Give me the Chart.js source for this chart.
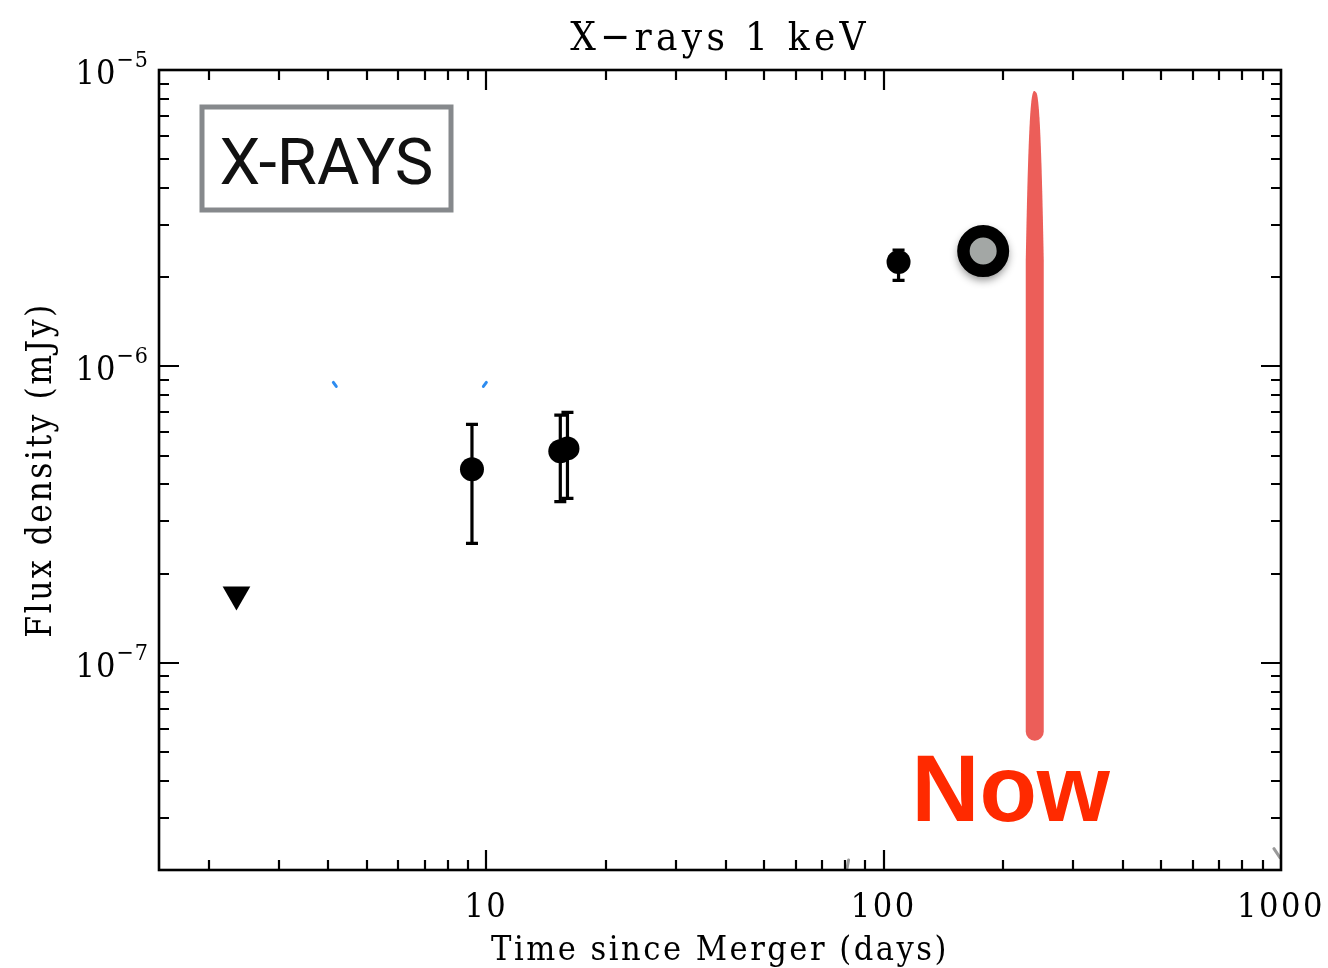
<!DOCTYPE html>
<html>
<head>
<meta charset="utf-8">
<title>X-rays 1 keV light curve</title>
<script src="https://cdn.jsdelivr.net/npm/chart.js@4/dist/chart.umd.min.js"></script>
<style>
  html, body { margin: 0; padding: 0; background: #ffffff; }
  #wrap { width: 1328px; height: 968px; position: relative; }
</style>
</head>
<body>
<div id="wrap"><canvas id="c" width="1328" height="968"></canvas></div>
<script>
// ---- data ----
// upper limit (days since merger, flux density in mJy)
const limitDays = [2.35];
const limitFlux = [1.7e-7];

// detections with their 1-sigma ranges
const detDays = [9.2, 15.35, 16.0, 109];
const detFlux = [4.5e-7, 5.17e-7, 5.29e-7, 2.25e-6];
const detLow  = [2.53e-7, 3.5e-7, 3.59e-7, 1.95e-6];
const detHigh = [6.37e-7, 6.85e-7, 7.0e-7, 2.47e-6];

// most recent epoch
const latestDays = [178];
const latestFlux = [2.45e-6];

// present-day band (day, low/high flux)
const nowDays = [240, 240];
const nowFlux = [5.46e-8, 8.5e-6];

// stray curve pieces
const blueLeftDays  = [4.12, 4.19];
const blueLeftFlux  = [8.83e-7, 8.56e-7];
const blueRightDays = [9.83, 10.0];
const blueRightFlux = [8.56e-7, 8.83e-7];
const greyLeftDays  = [80.9, 81.6];
const greyLeftFlux  = [2.03e-8, 2.16e-8];
const greyRightDays = [960, 994];
const greyRightFlux = [2.36e-8, 2.2e-8];

// axes
const xTicks = [10, 100, 1000];
const yTicks = [1e-7, 1e-6, 1e-5];
const xRange = [1.5, 1000];
const yRange = [2e-8, 1e-5];

const SERIF = '"DejaVu Serif Condensed", "Liberation Serif", serif';
const zip = (xs, ys) => xs.map((v, i) => ({ x: v, y: ys[i] }));

// ---- drawing helpers ----
function drawNowBand(chart) {
  const { ctx, scales: { x, y } } = chart;
  const cx = x.getPixelForValue(nowDays[0]);
  const yTop = y.getPixelForValue(nowFlux[1]);
  const yBot = y.getPixelForValue(nowFlux[0]);
  const half = 9;
  const taper = 170;
  const hw = (py) => half * Math.pow(Math.min(1, Math.max(0, (py - yTop) / taper)), 0.35);
  ctx.save();
  ctx.fillStyle = '#ec5e59';
  ctx.beginPath();
  ctx.moveTo(cx - 1, yTop);
  for (let py = yTop; py <= yBot - half; py += 2) ctx.lineTo(cx + hw(py), py);
  ctx.arc(cx, yBot - half, half, 0, Math.PI);
  for (let py = yBot - half; py >= yTop; py -= 2) ctx.lineTo(cx - hw(py), py);
  ctx.closePath();
  ctx.fill();
  ctx.restore();
}

function drawErrorBars(chart) {
  const { ctx, scales: { x, y } } = chart;
  ctx.save();
  ctx.strokeStyle = '#000';
  ctx.lineWidth = 3.2;
  detDays.forEach((d, i) => {
    const px = x.getPixelForValue(d);
    const lo = y.getPixelForValue(detLow[i]);
    const hi = y.getPixelForValue(detHigh[i]);
    ctx.beginPath();
    ctx.moveTo(px, lo); ctx.lineTo(px, hi);
    ctx.moveTo(px - 6, lo); ctx.lineTo(px + 6, lo);
    ctx.moveTo(px - 6, hi); ctx.lineTo(px + 6, hi);
    ctx.stroke();
  });
  ctx.restore();
}

function drawFrame(chart) {
  const { ctx, chartArea: { left, right, top, bottom }, scales: { x, y } } = chart;
  ctx.save();
  ctx.strokeStyle = '#000';
  ctx.lineWidth = 2.2;
  ctx.beginPath();
  for (let k = 0; k <= 3; k++) {
    for (let m = 1; m <= 9; m++) {
      const v = m * Math.pow(10, k);
      if (v <= xRange[0] || v >= xRange[1]) continue;
      const len = m === 1 ? 20 : 10;
      const px = Math.round(x.getPixelForValue(v));
      ctx.moveTo(px, bottom); ctx.lineTo(px, bottom - len);
      ctx.moveTo(px, top); ctx.lineTo(px, top + len);
    }
  }
  for (let k = -8; k <= -5; k++) {
    for (let m = 1; m <= 9; m++) {
      const v = m * Math.pow(10, k);
      if (v <= yRange[0] * 1.0001 || v >= yRange[1] * 0.9999) continue;
      const len = m === 1 ? 20 : 10;
      const py = Math.round(y.getPixelForValue(v));
      ctx.moveTo(left, py); ctx.lineTo(left + len, py);
      ctx.moveTo(right, py); ctx.lineTo(right - len, py);
    }
  }
  ctx.stroke();
  ctx.lineWidth = 2.6;
  ctx.strokeRect(left, top, right - left, bottom - top);
  ctx.restore();
}

function drawYLabels(chart) {
  const { ctx, chartArea: { left }, scales: { y } } = chart;
  ctx.save();
  ctx.fillStyle = '#000';
  ctx.textBaseline = 'alphabetic';
  ctx.textAlign = 'left';
  yTicks.forEach(v => {
    const py = y.getPixelForValue(v);
    const sup = '\u2212' + Math.abs(Math.round(Math.log10(v)));
    ctx.letterSpacing = '1px';
    ctx.font = '23px ' + SERIF;
    const supW = ctx.measureText(sup).width;
    ctx.letterSpacing = '1px';
    ctx.font = '34px ' + SERIF;
    const baseW = ctx.measureText('10').width;
    const end = left - 10;
    ctx.fillText('10', end - supW - baseW, py + 14);
    ctx.letterSpacing = '1px';
    ctx.font = '23px ' + SERIF;
    ctx.fillText(sup, end - supW, py - 3);
  });
  ctx.restore();
}

function drawAnnotations(chart) {
  const { ctx, chartArea: { left, top }, scales: { x, y } } = chart;
  ctx.save();
  ctx.letterSpacing = '0px';
  // boxed panel tag
  const bx = left + 43, by = top + 37, bw = 249, bh = 103;
  ctx.strokeStyle = '#86898c';
  ctx.lineWidth = 5;
  ctx.strokeRect(bx, by, bw, bh);
  ctx.fillStyle = '#111';
  ctx.font = '400 65px Roboto, "Liberation Sans", sans-serif';
  ctx.textAlign = 'center';
  ctx.textBaseline = 'alphabetic';
  ctx.fillText('X-RAYS', bx + bw / 2, by + 77);
  // label under the present-day band
  const nx = x.getPixelForValue(nowDays[0]);
  const ny = y.getPixelForValue(nowFlux[0]);
  ctx.fillStyle = '#ff2a00';
  ctx.font = 'bold 94px "Liberation Sans", Arial, sans-serif';
  ctx.fillText('Now', nx - 24, ny + 80);
  ctx.restore();
}

const axesPlugin = {
  id: 'axesDecor',
  beforeDraw(chart) {
    chart.ctx.letterSpacing = '2.5px';
    const tb = chart.titleBlock;
    if (tb && !tb._spaced) {
      const orig = tb.draw.bind(tb);
      tb.draw = function () {
        const c = chart.ctx;
        const prev = c.letterSpacing;
        c.letterSpacing = '4.3px';
        orig();
        c.letterSpacing = prev;
      };
      tb._spaced = true;
    }
  },
  beforeDatasetsDraw(chart) {
    drawNowBand(chart);
    drawErrorBars(chart);
  },
  beforeDatasetDraw(chart, args) {
    if (args.index === 2) {
      // soft drop shadow under the latest epoch marker
      const { ctx, scales: { x, y } } = chart;
      const px = x.getPixelForValue(latestDays[0]);
      const py = y.getPixelForValue(latestFlux[0]);
      ctx.save();
      ctx.shadowColor = 'rgba(0,0,0,0.45)';
      ctx.shadowBlur = 9;
      ctx.shadowOffsetY = 4;
      ctx.fillStyle = '#000';
      ctx.beginPath();
      ctx.arc(px, py, 25, 0, Math.PI * 2);
      ctx.fill();
      ctx.restore();
    }
  },
  afterDraw(chart) {
    drawFrame(chart);
    drawYLabels(chart);
    drawAnnotations(chart);
  }
};

Chart.defaults.font.family = SERIF;
Chart.defaults.color = '#000';

const fragment = (xs, ys, color) => ({
  data: zip(xs, ys), showLine: true, pointRadius: 0,
  borderColor: color, borderWidth: 3, borderCapStyle: 'round'
});

new Chart(document.getElementById('c'), {
  type: 'scatter',
  data: {
    datasets: [
      { label: 'upper limit', data: zip(limitDays, limitFlux), pointStyle: 'triangle',
        rotation: 180, pointRadius: 16, backgroundColor: '#000', borderWidth: 0 },
      { label: 'detections', data: zip(detDays, detFlux), pointStyle: 'circle',
        pointRadius: 12, backgroundColor: '#000', borderWidth: 0 },
      { label: 'latest', data: zip(latestDays, latestFlux), pointStyle: 'circle',
        pointRadius: 19.75, backgroundColor: '#a3a7a5', borderColor: '#000', borderWidth: 12.5 },
      fragment(blueLeftDays, blueLeftFlux, '#2d8cf0'),
      fragment(blueRightDays, blueRightFlux, '#2d8cf0'),
      fragment(greyLeftDays, greyLeftFlux, '#9a9a9a'),
      fragment(greyRightDays, greyRightFlux, '#9a9a9a')
    ]
  },
  options: {
    responsive: false,
    animation: false,
    devicePixelRatio: 1,
    events: [],
    layout: { padding: { left: 0, right: 47, top: 0, bottom: 0 } },
    plugins: {
      legend: { display: false },
      tooltip: { enabled: false },
      title: {
        display: true, text: 'X\u2212rays 1 keV', fullSize: false, color: '#000',
        font: { size: 40, weight: 'normal', family: SERIF },
        padding: { top: 16, bottom: 6 }
      }
    },
    scales: {
      x: {
        type: 'logarithmic', min: xRange[0], max: xRange[1], position: 'bottom',
        grid: { display: false, drawTicks: false }, border: { display: false },
        afterBuildTicks: (s) => { s.ticks = xTicks.map(v => ({ value: v })); },
        ticks: { autoSkip: false, maxRotation: 0, minRotation: 0, padding: 18,
                 font: { size: 34 }, color: '#000', callback: (v) => String(v) },
        title: { display: true, text: 'Time since Merger (days)', color: '#000',
                 font: { size: 34 }, padding: { top: 0, bottom: -4 } },
        afterFit: (s) => { s.height = 98; s.paddingLeft = 0; s.paddingRight = 0; }
      },
      y: {
        type: 'logarithmic', min: yRange[0], max: yRange[1], position: 'left',
        grid: { display: false, drawTicks: false }, border: { display: false },
        ticks: { display: false },
        title: { display: true, text: 'Flux density (mJy)', color: '#000',
                 font: { size: 35 }, padding: { top: 21, bottom: 0 } },
        afterFit: (s) => { s.width = 159; s.paddingTop = 0; s.paddingBottom = 0; }
      }
    }
  },
  plugins: [axesPlugin]
});
</script>
</body>
</html>
